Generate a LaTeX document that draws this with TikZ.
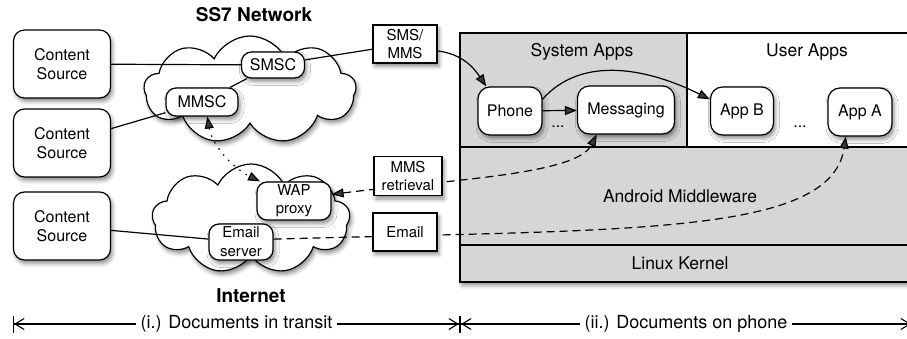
\documentclass[tikz,border=0pt]{standalone}
\usepackage{fontspec}
\setmainfont{TeX Gyre Heros}
\usepackage{xcolor}
\usetikzlibrary{arrows.meta,shapes.symbols,shadows.blur,backgrounds}
\definecolor{layergray}{gray}{0.84}

\begin{document}
\begin{tikzpicture}[x=1pt,y=-1pt,line width=1.2pt,
  every node/.style={font=\fontsize{16}{19}\selectfont,align=center},
  softshadow/.style={blur shadow={shadow xshift=2pt,shadow yshift=-3.5pt,shadow blur radius=4pt,shadow opacity=45}},
  sourcebox/.style={draw,fill=white,rounded corners=11pt,minimum width=97pt,minimum height=68pt,softshadow},
  serverbox/.style={draw,fill=white,rounded corners=10pt,inner sep=2pt,softshadow},
  appbox/.style={draw,fill=white,rounded corners=12pt,minimum width=64pt,minimum height=48pt,softshadow},
  tagbox/.style={draw,fill=white,minimum width=64pt,minimum height=38pt,inner sep=1pt,font=\fontsize{15}{18}\selectfont,softshadow},
  netcloud/.style={cloud,draw,fill=white,cloud puffs=9,cloud puff arc=130,aspect=2,softshadow},
  stackbox/.style={draw,line width=2.6pt},
  nettitle/.style={font=\fontsize{19}{22}\selectfont\bfseries},
  biglabel/.style={font=\fontsize{17.5}{21}\selectfont},
  arrowto/.style={-{Triangle[length=12pt,width=9pt]}},
  arrowboth/.style={{Triangle[length=12pt,width=9pt]}-{Triangle[length=12pt,width=9pt]}},
  dashline/.style={dash pattern=on 8pt off 5pt},
  dotline/.style={dash pattern=on 1.5pt off 6pt},
  dimline/.style={{Bar[width=17pt]Straight Barb[length=9pt,width=11pt]}-{Straight Barb[length=9pt,width=11pt]Bar[width=17pt]},line width=1.1pt},
  dimlabel/.style={fill=white,inner sep=5pt,font=\fontsize{18}{21}\selectfont},
]
\useasboundingbox (0,0) rectangle (907,339);

% phone software stack
\filldraw[stackbox,fill=layergray,softshadow] (460,33) rectangle (930,282);
\filldraw[stackbox,fill=white] (687,33) rectangle (930,147);
\draw[stackbox] (687,33) -- (687,147);
\draw[stackbox] (460,147) -- (930,147);
\draw[stackbox] (460,245) -- (930,245);
\node[biglabel] (sysapps) at (582,52) {System Apps};
\node[biglabel] (userapps) at (807,52) {User Apps};
\node[biglabel] (middleware) at (680,196) {Android Middleware};
\node[biglabel] (kernel) at (680,263) {Linux Kernel};

% the two networks
\node[netcloud,minimum width=212pt,minimum height=108pt] (ss7) at (250,90) {};
\node[nettitle] (ss7label) at (254,15) {SS7 Network};
\node[netcloud,minimum width=198pt,minimum height=110pt] (internet) at (251,219) {};
\node[nettitle] (netlabel) at (251,296) {Internet};
\begin{scope}[on background layer]
  \draw (ss7) -- (internet);
\end{scope}

% content sources
\node[sourcebox] (src1) at (62,64) {Content\\Source};
\node[sourcebox] (src2) at (62,143) {Content\\Source};
\node[sourcebox] (src3) at (62,226) {Content\\Source};

% servers in the networks
\node[serverbox,minimum width=63pt,minimum height=26pt] (smsc) at (273,65) {SMSC};
\node[serverbox,minimum width=72pt,minimum height=28pt] (mmsc) at (202,102) {MMSC};
\node[serverbox,minimum width=74pt,minimum height=38pt,font=\fontsize{15}{18}\selectfont] (wap) at (294,201) {WAP\\proxy};
\node[serverbox,minimum width=64pt,minimum height=36pt,font=\fontsize{15}{19}\selectfont] (mailsrv) at (241,242) {Email\\server};

% apps on the phone
\node[appbox] (phone) at (510,111) {Phone};
\node[appbox,minimum width=97pt] (msg) at (626,110) {Messaging};
\node[appbox,minimum width=63pt] (appb) at (742,111) {App B};
\node[appbox] (appa) at (860,112) {App A};
\node[anchor=base] (dots1) at (558,128) {...};
\node[anchor=base] (dots2) at (800,128) {...};

% links
\draw (src1) -- (smsc);
\draw (src2) -- (mmsc);
\draw (src3) -- (mailsrv);
\draw (smsc) -- (mmsc);
\node[tagbox] (smsmms) at (405,44) {SMS/\\MMS};
\draw (smsc) -- (smsmms);
\draw[arrowto] (smsmms.-12) .. controls +(25,3) and +(-12,-18) .. (phone.134);
\draw[arrowto] (phone) -- (msg);
\draw[arrowto] (phone.20) .. controls +(40,-45) and +(-60,-30) .. (appb.160);
\draw[arrowboth,dotline] (mmsc.-70) .. controls +(5,30) and +(-25,-12) .. (wap.150);
\draw[arrowboth,dashline] (wap.10) .. controls +(120,-15) and +(-20,40) .. (msg.220);
\node[tagbox,minimum width=68pt,minimum height=39pt] (mmsget) at (408,176) {MMS\\retrieval};
\draw[arrowto,dashline] (mailsrv.5) .. controls +(350,-10) and +(-15,100) .. (appa.240);
\node[tagbox] (mailtag) at (405,232) {Email};

% where the documents are
\coordinate (dimleft) at (13,324);
\coordinate (dimmid) at (460,324);
\coordinate (dimright) at (912,324);
\draw[dimline] (dimleft) -- node[dimlabel] (transit) {(i.) Documents in transit} (dimmid);
\draw[dimline] (dimmid) -- node[dimlabel] (onphone) {(ii.) Documents on phone} (dimright);
\end{tikzpicture}
\end{document}
